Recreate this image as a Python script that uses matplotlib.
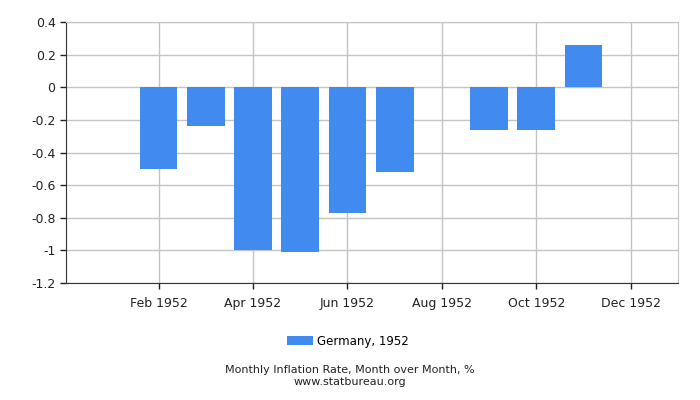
import matplotlib
matplotlib.use("Agg")
import matplotlib.pyplot as plt
from matplotlib.ticker import FuncFormatter

months = [2, 3, 4, 5, 6, 7, 8, 9, 10, 11]
values = [-0.50, -0.24, -1.00, -1.01, -0.77, -0.52, 0.0, -0.26, -0.26, 0.26]
tick_pos = [2, 4, 6, 8, 10, 12]
tick_labels = ["Feb 1952", "Apr 1952", "Jun 1952", "Aug 1952", "Oct 1952", "Dec 1952"]
series_name = "Germany, 1952"
title = "Monthly Inflation Rate, Month over Month, %"
source = "www.statbureau.org"

color = "#418bf0"
grid_c = "#c4c4c4"

fig = plt.figure(figsize=(7, 4), dpi=100)
ax = fig.add_axes([0.0943, 0.2925, 0.8743, 0.6525])
ax.bar(months, values, width=0.8, color=color, zorder=3, label=series_name)
ax.set_xlim(0.04, 13.0)
ax.set_ylim(-1.2, 0.4)
ax.set_yticks([0.4, 0.2, 0, -0.2, -0.4, -0.6, -0.8, -1.0, -1.2])
ax.yaxis.set_major_formatter(FuncFormatter(lambda v, p: "%g" % round(v, 2)))
ax.set_xticks(tick_pos)
ax.set_xticklabels(tick_labels)
ax.grid(True, color=grid_c, linewidth=1, zorder=0)
ax.set_axisbelow(True)
for s in ["top", "right"]:
    ax.spines[s].set_color(grid_c)
for s in ["left", "bottom"]:
    ax.spines[s].set_color("#333333")
ax.tick_params(axis="both", labelsize=9, colors="#222222", length=4, width=1)
ax.tick_params(axis="x", pad=6)

leg = fig.legend(loc="center", bbox_to_anchor=(0.497, 0.1475), frameon=False,
                 fontsize=8.5, handlelength=2.2, handleheight=0.75, handletextpad=0.3)
fig.text(0.5, 0.074, title, ha="center", va="center", fontsize=8, color="#222222")
fig.text(0.5, 0.046, source, ha="center", va="center", fontsize=8, color="#222222")
fig.savefig("out.png", dpi=100)
